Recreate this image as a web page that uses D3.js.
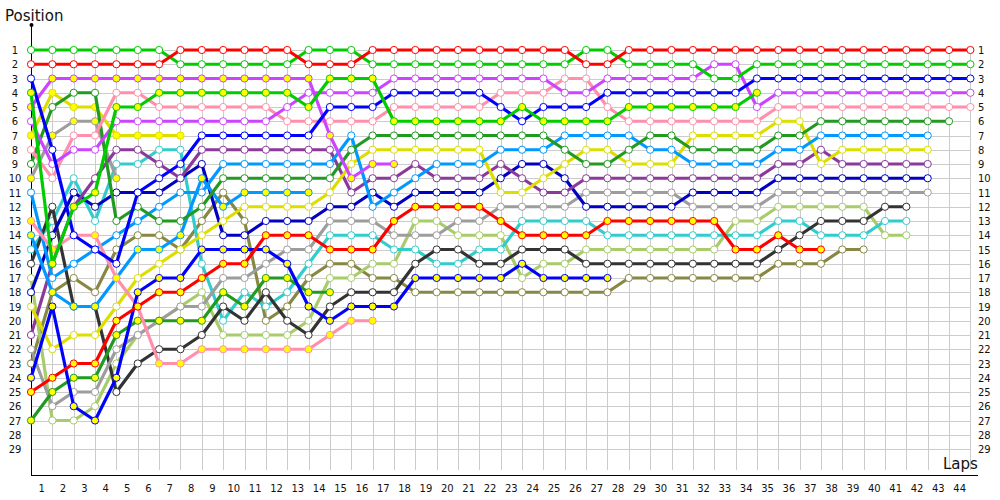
<!DOCTYPE html>
<html><head><meta charset="utf-8">
<script src="https://cdn.jsdelivr.net/npm/d3@7/dist/d3.min.js"></script>
<style>body{margin:0;background:#fff}svg{display:block}</style>
</head><body><svg id="c" width="1000" height="500"></svg>
<script>
// ---- data (position per lap, index = lap, lap 0 = grid) ----
const lapLabels = d3.range(1, 45);
const posLabels = d3.range(1, 30);
const r1 = [2,2,2,2,2,2,2,1,1,1,1,1,1,2,2,2,1,1,1,1,1,1,1,1,1,1,2,2,1,1,1,1,1,1,1,1,1,1,1,1,1,1,1,1,1];
const g1 = [1,1,1,1,1,1,1,2,2,2,2,2,2,1,1,1,2,2,2,2,2,2,2,2,2,2,1,1,2,2,2,2,3,3,2,2,2,2,2,2,2,2,2,2,2];
const b1 = [3,8,14,15,16,11,10,9,7,7,7,7,7,7,5,5,5,4,4,4,4,4,5,6,5,5,5,4,4,4,4,4,4,4,3,3,3,3,3,3,3,3,3,3,3];
const v1 = [6,9,8,8,6,6,6,6,6,6,6,6,5,4,4,4,4,3,3,3,3,3,3,3,3,4,4,3,3,3,3,3,2,2,5,4,4,4,4,4,4,4,4,4,4];
const p1 = [8,10,7,7,4,4,5,5,5,5,5,5,6,6,6,6,6,5,5,5,5,5,4,4,4,3,3,5,6,6,6,6,6,6,6,5,5,5,5,5,5,5,5,5,5];
const dg1 = [9,5,4,4,13,12,13,13,12,10,10,10,10,10,10,8,7,7,7,7,7,7,7,7,7,8,9,9,8,7,7,8,8,8,8,7,7,6,6,6,6,6,6,6];
const lb1 = [11,17,16,15,14,13,12,11,11,9,9,9,9,9,9,7,12,11,10,9,9,9,8,8,8,7,7,7,7,8,8,9,9,9,9,8,8,7,7,7,7,7,7];
const y1 = [19,22,21,21,19,17,16,15,14,13,12,12,12,12,11,9,8,8,8,8,8,8,11,11,10,9,8,8,9,9,9,7,7,7,7,6,6,9,8,8,8,8,8];
const pu1 = [21,16,12,10,8,8,9,10,8,8,8,8,8,8,8,11,10,10,9,10,10,10,9,10,11,11,10,10,10,10,10,10,10,10,10,9,9,8,9,9,9,9,9];
const db1 = [18,14,11,12,11,11,11,10,9,14,14,13,13,13,12,12,11,12,11,11,11,11,10,9,9,10,12,12,12,12,12,11,11,11,11,10,10,10,10,10,10,10,10];
const gr1 = [22,26,25,25,22,21,20,19,19,17,17,16,15,15,13,13,13,14,14,14,13,13,12,12,12,12,11,11,11,11,11,12,12,12,12,11,11,11,11,11,11,11,11];
const cy1 = [15,13,10,13,9,9,8,8,16,20,18,19,18,16,14,14,14,15,15,16,16,15,15,13,13,13,13,14,14,14,14,14,14,14,14,13,13,14,14,14,13,13];
const bk1 = [16,12,19,19,25,23,22,22,21,19,20,18,20,21,19,18,18,18,16,15,15,16,16,15,15,15,16,16,16,16,16,16,16,16,16,15,14,13,13,13,12,12];
const ol1 = [23,18,17,18,15,14,14,15,13,11,13,20,19,17,16,16,17,17,18,18,18,18,18,18,18,18,18,18,17,17,17,17,17,17,17,16,16,16,15,15];
const lg1 = [17,27,27,26,23,21,20,19,18,21,21,21,21,20,17,17,16,16,13,13,14,14,14,17,16,16,15,15,15,15,15,15,15,13,13,12,12,12,12,12,14,14];
const r2 = [25,24,23,23,20,19,18,18,17,16,16,14,14,14,15,15,15,13,12,12,12,12,13,14,14,14,14,13,13,13,13,13,13,15,15,14,15,15];
const b2 = [24,19,26,27,24,18,17,17,15,15,15,15,16,19,20,19,19,19,17,17,17,17,17,16,17,17,17,17];
const dg2 = [27,25,24,24,21,20,20,20,20,18,19,17,17,18,18];
const p2 = [13,15,14,14,17,19,23,23,22,22,22,22,22,22,21,20,20];
const v2 = [5,3,3,3,3,3,3,3,3,3,3,3,3,3,7,10,9,9];
const g2 = [4,16,12,11,5,5,4,4,4,4,4,4,4,5,3,3,3,6,6,6,6,6,6,5,6,6,6,6,5,5,5,5,5,5,4];
const y2 = [7,4,5,5,7,7,7,7];
const lb2 = [14,18,19,19,17,15,15,14,10,12,11,11,11,11];
const gr2 = [10,7,6,6,10];

// team of each series, and whether it is the team's second car
const seriesList = [
  ["olive", ol1, 0], ["lgreen", lg1, 0], ["cyan", cy1, 0], ["black", bk1, 0], ["gray", gr1, 0], ["gray", gr2, 1],
  ["dblue", db1, 0], ["purple", pu1, 0], ["yellow", y1, 0], ["yellow", y2, 1],
  ["lblue", lb1, 0], ["lblue", lb2, 1], ["dgreen", dg1, 0], ["dgreen", dg2, 1],
  ["pink", p2, 1], ["blue", b2, 1], ["red", r2, 1],
  ["pink", p1, 0], ["violet", v2, 1], ["violet", v1, 0], ["blue", b1, 0],
  ["green", g2, 1], ["green", g1, 0], ["red", r1, 0]
];
const teamColor = {
  red:"#ff0000", green:"#00cc00", blue:"#0000ff", violet:"#cc44ff", pink:"#ff8fab",
  dgreen:"#229a22", lblue:"#0099ff", yellow:"#dddd00", purple:"#8b3a9b", dblue:"#0000c0",
  gray:"#9d9d9d", lgreen:"#a8cc6a", black:"#333333", cyan:"#33cccc", olive:"#888844"
};

// ---- drawing ----
const svg = d3.select("#c");
const x = d3.scaleLinear().domain([0, 44]).range([31, 970.4]);
const y = d3.scaleLinear().domain([1, 29]).range([50, 449]);
const font = "Tahoma, 'DejaVu Sans', sans-serif";

svg.append("rect").attr("width", 1000).attr("height", 500).attr("fill", "#fff");

const grid = svg.append("g").attr("stroke", "#cccccc").attr("stroke-width", 1).attr("shape-rendering", "crispEdges");
grid.selectAll("line.v").data(d3.range(0, 45)).join("line")
  .attr("x1", d => Math.round(x(d)) + 0.5).attr("x2", d => Math.round(x(d)) + 0.5)
  .attr("y1", y(1)).attr("y2", 470);
grid.selectAll("line.h").data(posLabels).join("line")
  .attr("x1", 31).attr("x2", x(44))
  .attr("y1", d => Math.round(y(d)) + 0.5).attr("y2", d => Math.round(y(d)) + 0.5);

// axes
svg.append("line").attr("x1", 31.5).attr("x2", 31.5).attr("y1", 25).attr("y2", 476).attr("stroke", "#000");
svg.append("circle").attr("cx", 31.5).attr("cy", 25).attr("r", 2).attr("fill", "#000");
svg.append("line").attr("x1", 31).attr("x2", 978).attr("y1", 475.5).attr("y2", 475.5).attr("stroke", "#000");

svg.append("text").attr("x", 5).attr("y", 21).attr("font-family", font).attr("font-size", 15).attr("fill", "#111").text("Position");
svg.append("text").attr("x", 943).attr("y", 469).attr("font-family", font).attr("font-size", 15).attr("fill", "#111").text("Laps");

const lab = svg.append("g").attr("font-family", font).attr("font-size", 10).attr("fill", "#111");
lab.selectAll("text.l").data(posLabels).join("text").attr("x", 15).attr("y", d => y(d) + 4).attr("text-anchor", "middle").text(d => d);
lab.selectAll("text.r").data(posLabels).join("text").attr("x", 978).attr("y", d => y(d) + 4).text(d => d);
lab.selectAll("text.b").data(lapLabels).join("text").attr("x", d => x(d - 0.5)).attr("y", 492).attr("text-anchor", "middle").text(d => d);

const line = d3.line().x((d, i) => x(i)).y(d => y(d));
const sg = svg.append("g");
seriesList.forEach(([team, pos, second]) => {
  const c = teamColor[team];
  const g = sg.append("g");
  g.append("path").attr("d", line(pos)).attr("fill", "none").attr("stroke", c).attr("stroke-width", 3.2).attr("stroke-linejoin", "round");
  g.selectAll("circle").data(pos).join("circle")
    .attr("cx", (d, i) => x(i)).attr("cy", d => y(d)).attr("r", 3.6)
    .attr("fill", second ? "#ffff00" : "#ffffff").attr("stroke", c).attr("stroke-width", 1);
});
</script></body></html>
